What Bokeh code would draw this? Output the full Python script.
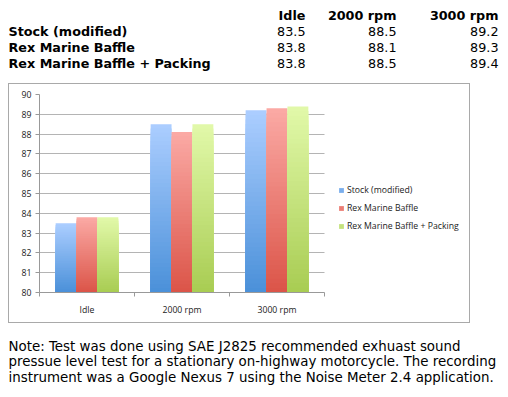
from bokeh.plotting import figure
from bokeh.models import Range1d, FixedTicker, Legend, LegendItem
from bokeh.core.properties import value
from bokeh.embed import file_html
from bokeh.resources import INLINE

categories = ["Idle", "2000 rpm", "3000 rpm"]
series = ["Stock (modified)", "Rex Marine Baffle", "Rex Marine Baffle + Packing"]
stock = [83.5, 88.5, 89.2]
baffle = [83.8, 88.1, 89.3]
packing = [83.8, 88.5, 89.4]
values = [stock, baffle, packing]
y_ticks = list(range(80, 91))
note_lines = [
    "Note: Test was done using SAE J2825 recommended exhuast sound",
    "pressue level test for a stationary on-highway motorcycle. The recording",
    "instrument was a Google Nexus 7 using the Noise Meter 2.4 application.",
]

top_colors = [(172, 206, 255), (251, 170, 165), (226, 249, 170)]
bot_colors = [(74, 144, 217), (219, 84, 72), (168, 204, 82)]

W = 508
tfont = "DejaVu Sans"
font = "Open Sans"


def text_fig(w, h):
    f = figure(width=w, height=h, output_backend="svg", toolbar_location=None,
               x_range=Range1d(0, w), y_range=Range1d(h, 0),
               min_border_left=0, min_border_right=0,
               min_border_top=0, min_border_bottom=0)
    f.xaxis.visible = False
    f.yaxis.visible = False
    f.outline_line_color = None
    f.xgrid.visible = False
    f.ygrid.visible = False
    return f


# ---------- table ----------
TH = 83
tsize = "12.75px"
pt = text_fig(W, TH)
row_y = [15, 31, 47, 63]
col_right = [305, 396, 498]
pt.text(x=col_right, y=[row_y[0]] * 3, text=categories, text_font=value(tfont),
        text_font_size=tsize, text_font_style="bold", text_align="right",
        text_baseline="middle", text_color="black")
pt.text(x=[8] * 3, y=row_y[1:], text=series, text_font=value(tfont),
        text_font_size=tsize, text_font_style="bold", text_align="left",
        text_baseline="middle", text_color="black")
for s in range(3):
    pt.text(x=col_right, y=[row_y[s + 1]] * 3, text=["%.1f" % v for v in values[s]],
            text_font=value(tfont), text_font_size=tsize, text_align="right",
            text_baseline="middle", text_color="black")

# ---------- chart ----------
CW, CH = 462, 240
ML, MR = 30, 2
frame_w = CW - ML - MR
plot_w = 285  # pixel width of the category area
x_end = len(categories) * frame_w / plot_w
p = figure(width=CW, height=CH, output_backend="svg", toolbar_location=None,
           x_range=Range1d(0, x_end), y_range=Range1d(80, 90),
           min_border_left=ML, min_border_right=MR, min_border_top=10,
           min_border_bottom=32)
p.outline_line_color = None
p.styles = {"border": "1px solid #a9a9a9", "box-sizing": "border-box", "margin-left": "8px"}

N = 40
bw = 0.22
bar_renderers = []
for s, vals in enumerate(values):
    xs, tops, bottoms, cols = [], [], [], []
    for i, v in enumerate(vals):
        x = i + 0.5 + (s - 1) * bw
        base = p.y_range.start
        for k in range(N - 1, -1, -1):
            t = base + (v - base) * (k + 1) / N
            f = (k + 0.5) / N
            c0, c1 = bot_colors[s], top_colors[s]
            col = "#%02x%02x%02x" % tuple(int(round(c0[j] + (c1[j] - c0[j]) * f)) for j in range(3))
            xs.append(x); tops.append(t); bottoms.append(base); cols.append(col)
    r = p.vbar(x=xs, top=tops, bottom=bottoms, width=bw, fill_color=cols, line_color=None)
    bar_renderers.append(r)

p.yaxis.ticker = FixedTicker(ticks=y_ticks)
p.yaxis.major_tick_out = 4
p.yaxis.major_tick_in = 0
p.yaxis.minor_tick_out = 0
p.yaxis.major_label_standoff = 4
p.yaxis.axis_line_color = "#999999"
p.yaxis.major_tick_line_color = "#999999"
p.yaxis.major_label_text_font = font
p.yaxis.major_label_text_font_size = "8.7px"
p.yaxis.major_label_text_color = "#222222"

p.xaxis.ticker = FixedTicker(ticks=[i + 0.5 for i in range(len(categories))],
                             minor_ticks=list(range(len(categories) + 1)))
p.xaxis.major_label_overrides = {i + 0.5: c for i, c in enumerate(categories)}
p.xaxis.bounds = (0, len(categories))
p.xaxis.major_tick_out = 0
p.xaxis.major_tick_in = 0
p.xaxis.minor_tick_out = 4
p.xaxis.minor_tick_in = 0
p.xaxis.minor_tick_line_color = "#999999"
p.xaxis.axis_line_color = "#999999"
p.xaxis.major_label_standoff = 7
p.xaxis.major_label_text_font = font
p.xaxis.major_label_text_font_size = "8.7px"
p.xaxis.major_label_text_color = "#222222"

p.xgrid.grid_line_color = None
yg = p.ygrid[0]
if "cross_bounds" in yg.properties():
    yg.cross_bounds = (0, len(categories))
    yg.grid_line_color = "#b4b4b4"
else:
    yg.grid_line_color = None
    p.segment(x0=[0] * len(y_ticks), x1=[len(categories)] * len(y_ticks),
              y0=y_ticks, y1=y_ticks, line_color="#b4b4b4", level="underlay")

legend = Legend(items=[LegendItem(label=series[s], renderers=[bar_renderers[s]], index=N // 2)
                       for s in range(3)],
                location=(299, 60), glyph_width=6, glyph_height=6, label_height=13,
                spacing=5, padding=2, margin=0, label_standoff=3,
                label_text_font=font, label_text_font_size="8.7px", label_text_color="#222222",
                border_line_color=None, background_fill_alpha=0)
p.add_layout(legend, "center")

# ---------- note ----------
NH = 74
pn = text_fig(W, NH)
pn.text(x=[8] * len(note_lines), y=[23, 38, 54], text=note_lines, text_font=value(tfont),
        text_font_size="13.4px", text_align="left", text_baseline="middle", text_color="black")

open("out.html", "w").write(file_html([pt, p, pn], INLINE))
